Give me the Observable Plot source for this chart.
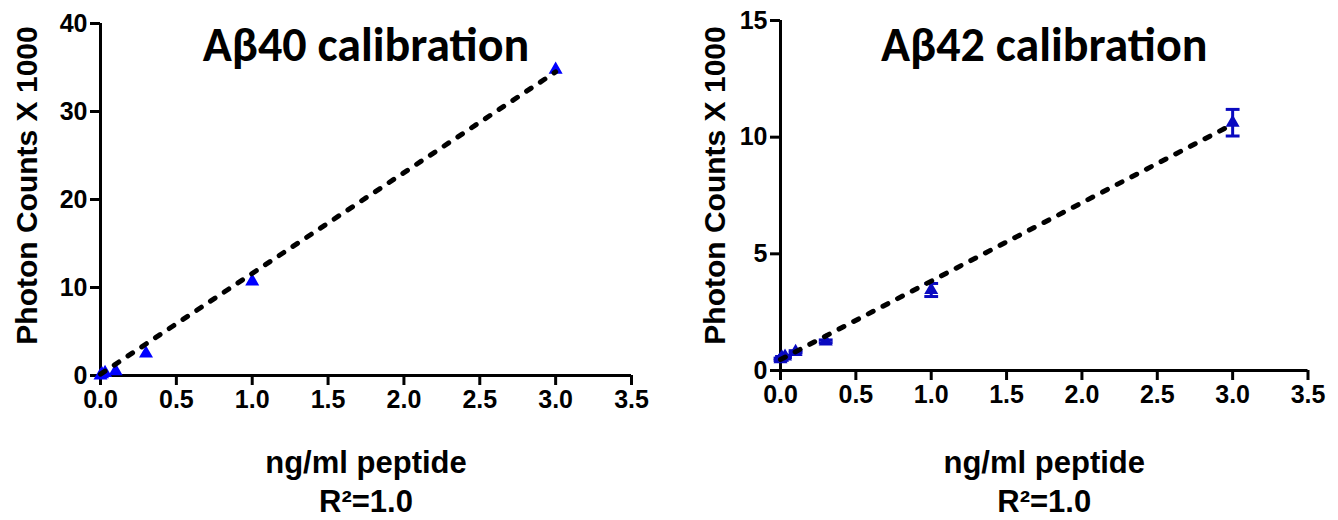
<!DOCTYPE html>
<html>
<head>
<meta charset="utf-8">
<script src="https://cdn.jsdelivr.net/npm/d3@7"></script>
<script src="https://cdn.jsdelivr.net/npm/@observablehq/plot@0.6"></script>
<style>
  html, body { margin: 0; padding: 0; background: #fff; }
  #charts { display: flex; width: 1338px; height: 520px; }
</style>
</head>
<body>
<div id="charts"></div>
<script>
// ---- data ----
const concentrations = [0, 0.01, 0.03, 0.1, 0.3, 1, 3];
const ab40Counts = [0, 0.15, 0.3, 0.5, 2.5, 10.7, 34.75];
const ab42Counts = [0.48, 0.55, 0.6, 0.8, 1.25, 3.45, 10.62];
const ab42SD = [0.05, 0.05, 0.05, 0.05, 0.06, 0.28, 0.57];
const fitX = [0, 3];
const ab40Fit = [0.15, 34.5];
const ab42Fit = [0.47, 10.55];
const xTicks = [0, 0.5, 1, 1.5, 2, 2.5, 3, 3.5];
const ab40YTicks = [0, 10, 20, 30, 40];
const ab42YTicks = [0, 5, 10, 15];
const titles = ["A\u03b240 calibration", "A\u03b242 calibration"];
const yLabel = "Photon Counts X 1000";
const xLabel = "ng/ml peptide";
const r2Label = "R\u00b2=1.0";

const ab40 = concentrations.map((c, i) => ({x: c, y: ab40Counts[i]}));
const ab42 = concentrations.map((c, i) => ({x: c, y: ab42Counts[i], lo: ab42Counts[i] - ab42SD[i], hi: ab42Counts[i] + ab42SD[i]}));
const fit40 = fitX.map((x, i) => ({x, y: ab40Fit[i]}));
const fit42 = fitX.map((x, i) => ({x, y: ab42Fit[i]}));

const capSymbol = { draw(ctx, size) { const w = Math.sqrt(size); ctx.moveTo(-w, 0); ctx.lineTo(w, 0); } };

const tickFont = "'Liberation Sans', Arial, sans-serif";
const titleFont = "Carlito, Lato, sans-serif";

function panel(opts) {
  const {title, yDomain, yTicks, points, fit, color, errors, m, labelDx, labelDy, titleDy, xlDy, r2Dy} = opts;
  const marks = [
    Plot.axisX({ticks: xTicks, tickFormat: d3.format(".1f"), tickSize: 10, tickPadding: 5, strokeWidth: 3, label: null, fontSize: 25, fontWeight: "bold"}),
    Plot.axisY({ticks: yTicks, tickSize: 10, tickPadding: 3, strokeWidth: 3, label: null, fontSize: 25, fontWeight: "bold"}),
    Plot.ruleY([0], {stroke: "black", strokeWidth: 3}),
    Plot.ruleX([0], {stroke: "black", strokeWidth: 3}),
    Plot.dot(points, {x: "x", y: "y", symbol: "triangle", r: 5.2, fill: color, stroke: "none"})
  ];
  if (errors) {
    marks.push(Plot.ruleX(points, {x: "x", y1: "lo", y2: "hi", stroke: color, strokeWidth: 3}));
    marks.push(Plot.dot(points, {x: "x", y: "hi", symbol: capSymbol, r: 3.9, fill: "none", stroke: color, strokeWidth: 3}));
    marks.push(Plot.dot(points, {x: "x", y: "lo", symbol: capSymbol, r: 3.9, fill: "none", stroke: color, strokeWidth: 3}));
  }
  marks.push(Plot.line(fit, {x: "x", y: "y", stroke: "black", strokeWidth: 5, strokeDasharray: "5.5,11", strokeLinecap: "round"}));
  marks.push(Plot.text([title], {frameAnchor: "top", lineAnchor: "middle", textAnchor: "middle", dy: titleDy, fontFamily: titleFont, fontSize: 48, fontWeight: "bold", fill: "black"}));
  marks.push(Plot.text([yLabel], {frameAnchor: "left", lineAnchor: "middle", textAnchor: "middle", rotate: -90, dx: labelDx, dy: labelDy, fontSize: 30, fontWeight: "bold", fill: "black"}));
  marks.push(Plot.text([xLabel], {frameAnchor: "bottom", lineAnchor: "middle", textAnchor: "middle", dy: xlDy, fontSize: 31, fontWeight: "bold", fill: "black"}));
  marks.push(Plot.text([r2Label], {frameAnchor: "bottom", lineAnchor: "middle", textAnchor: "middle", dy: r2Dy, fontSize: 31, fontWeight: "bold", fill: "black"}));
  return Plot.plot({
    width: 669, height: 520,
    marginLeft: m[0], marginRight: m[1], marginTop: m[2], marginBottom: m[3],
    x: {domain: [0, 3.5]},
    y: {domain: yDomain},
    style: {fontFamily: tickFont, fontSize: "25px", fontWeight: "bold", color: "black", background: "white", overflow: "visible"},
    marks
  });
}

const container = document.getElementById("charts");
container.append(panel({
  title: titles[0], yDomain: [0, 40], yTicks: ab40YTicks, points: ab40, fit: fit40, color: "#0000ff", errors: false,
  m: [100, 38, 23, 145], labelDx: -73, labelDy: -14, titleDy: 22, xlDy: 88, r2Dy: 127
}));
container.append(panel({
  title: titles[1], yDomain: [0, 15], yTicks: ab42YTicks, points: ab42, fit: fit42, color: "#0a0ac0", errors: true,
  m: [111, 30.5, 20, 150], labelDx: -65, labelDy: -10, titleDy: 25, xlDy: 93, r2Dy: 132
}));
</script>
</body>
</html>
